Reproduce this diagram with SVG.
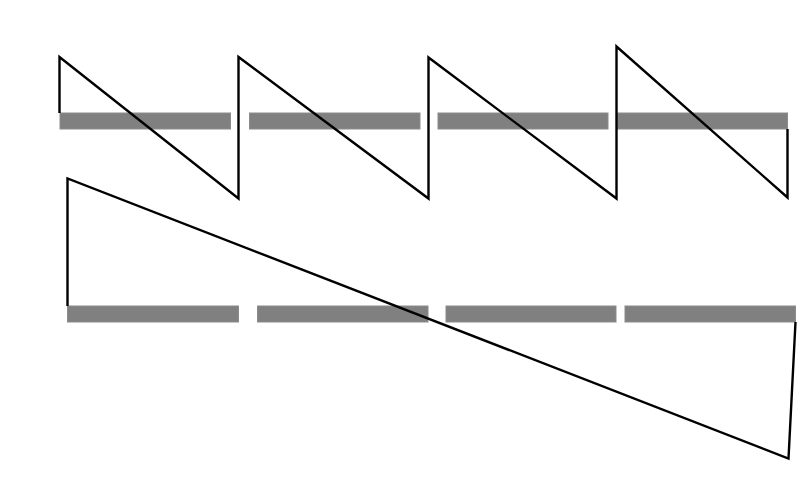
<svg xmlns="http://www.w3.org/2000/svg" width="800" height="485" viewBox="0 0 800 485">
<style>
.bar{fill:#808080;stroke:#8c8c8c;stroke-width:1}
.link{fill:none;stroke:#000;stroke-width:2.4;stroke-linejoin:miter}
</style>
<rect width="800" height="485" fill="#fff"/>
<g id="bar1"><rect class="bar" x="60" y="113" width="170.5" height="16"/></g>
<g id="bar2"><rect class="bar" x="249.5" y="113" width="170.5" height="16"/></g>
<g id="bar3"><rect class="bar" x="438" y="113" width="170" height="16"/></g>
<g id="bar4"><rect class="bar" x="617" y="113" width="170.5" height="16"/></g>
<g id="bar5"><rect class="bar" x="67.5" y="306" width="171" height="16"/></g>
<g id="bar6"><rect class="bar" x="257.5" y="306" width="170.5" height="16"/></g>
<g id="bar7"><rect class="bar" x="446" y="306" width="170" height="16"/></g>
<g id="bar8"><rect class="bar" x="625" y="306" width="170.5" height="16"/></g>
<g id="connectors">
<polyline class="link" points="59.5,113 59.5,57 238.5,198.5 238.5,57 428.5,198.5 428.5,57.5 616.5,198.5 616.5,46.5 787.5,197.5 787.5,129"/>
<polyline class="link" points="67.5,306 67.5,178.5 788.5,458.5 795.5,322"/>
</g>
</svg>
